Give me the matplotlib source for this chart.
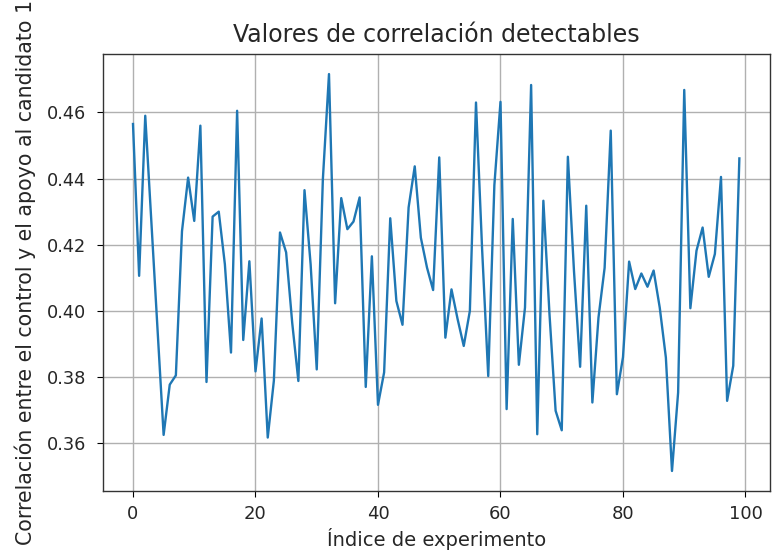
import matplotlib
matplotlib.use("Agg")
import matplotlib.pyplot as plt
import numpy as np

experiment_index = list(range(100))
correlation = [
    0.4565, 0.4106, 0.4590, 0.4269, 0.3946, 0.3625, 0.3777, 0.3805, 0.4241, 0.4403,
    0.4272, 0.4560, 0.3785, 0.4285, 0.4300, 0.4141, 0.3874, 0.4605, 0.3912, 0.4150,
    0.3817, 0.3977, 0.3617, 0.3789, 0.4237, 0.4177, 0.3963, 0.3788, 0.4365, 0.4141,
    0.3823, 0.4398, 0.4716, 0.4023, 0.4341, 0.4247, 0.4270, 0.4343, 0.3770, 0.4165,
    0.3716, 0.3814, 0.4280, 0.4030, 0.3958, 0.4313, 0.4437, 0.4221, 0.4131, 0.4063,
    0.4464, 0.3919, 0.4065, 0.3975, 0.3894, 0.4000, 0.4630, 0.4186, 0.3803, 0.4380,
    0.4632, 0.3703, 0.4278, 0.3837, 0.4010, 0.4683, 0.3627, 0.4333, 0.3990, 0.3698,
    0.3639, 0.4466, 0.4120, 0.3831, 0.4318, 0.3723, 0.3980, 0.4130, 0.4545, 0.3748,
    0.3860, 0.4149, 0.4066, 0.4113, 0.4073, 0.4122, 0.4010, 0.3859, 0.3516, 0.3753,
    0.4668, 0.4008, 0.4182, 0.4252, 0.4103, 0.4172, 0.4405, 0.3728, 0.3834, 0.4461,
]

title = "Valores de correlación detectables"
xlabel = "Índice de experimento"
ylabel = "Correlación entre el control y el apoyo al candidato 1"

plt.rcParams['font.family'] = ['DejaVu Sans']

fig = plt.figure(figsize=(7.72, 5.59), dpi=100)
ax = fig.add_axes([0.133, 0.122, 0.864, 0.781])
ax.plot(experiment_index, correlation, color='#1f77b4', linewidth=1.7)
ax.grid(True, color='#b0b0b0', linewidth=1.0)
ax.set_title(title, fontsize=17, pad=9, color='#262626')
ax.set_xlabel(xlabel, fontsize=14, labelpad=4, color='#262626')
ax.set_ylabel(ylabel, fontsize=14.8, labelpad=8, color='#262626')
ax.set_xticks([0, 20, 40, 60, 80, 100])
ax.set_yticks([0.36, 0.38, 0.40, 0.42, 0.44, 0.46])
ax.tick_params(axis='x', labelsize=13, length=4, pad=6, labelcolor='#262626')
ax.tick_params(axis='y', labelsize=12.8, length=4, pad=8, labelcolor='#262626')
for s in ax.spines.values():
    s.set_linewidth(1.0)
    s.set_color('#333333')
fig.savefig("out.png", dpi=100)
